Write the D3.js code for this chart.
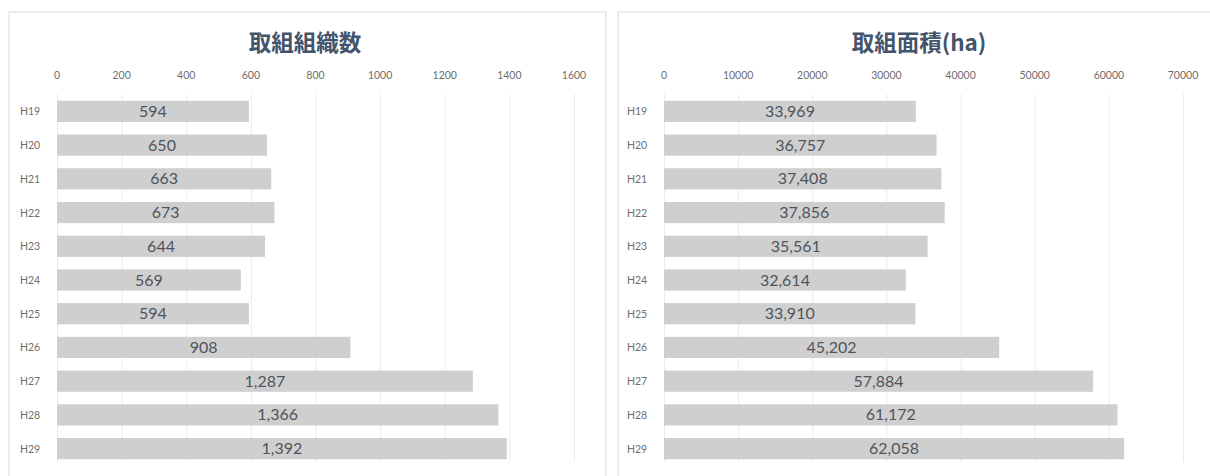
<!DOCTYPE html>
<html>
<head>
<meta charset="utf-8">
<script src="https://cdn.jsdelivr.net/npm/d3@7"></script>
<style>
  body { margin: 0; background: #fff; }
  svg { display: block; }
  .grid line { stroke: #ebebeb; stroke-width: 1; }
  .grid path { display: none; }
</style>
</head>
<body>
<svg id="container" width="1210" height="476"></svg>
<script>
const years = ["H19","H20","H21","H22","H23","H24","H25","H26","H27","H28","H29"];
const orgCounts = [594, 650, 663, 673, 644, 569, 594, 908, 1287, 1366, 1392];
const areaHa = [33969, 36757, 37408, 37856, 35561, 32614, 33910, 45202, 57884, 61172, 62058];
const orgTicks = [0, 200, 400, 600, 800, 1000, 1200, 1400, 1600];
const areaTicks = [0, 10000, 20000, 30000, 40000, 50000, 60000, 70000];

const svg = d3.select("#container");

function drawPanel(opts) {
  let g = svg.append("g");

  // panel frame (open at the bottom)
  g.append("path")
    .attr("d", `M${opts.left},476 V${12} H${opts.right} V476`)
    .attr("fill", "none")
    .attr("stroke", "#e3e6ea")
    .attr("stroke-width", 1.5);

  g.append("text")
    .attr("x", opts.titleX)
    .attr("y", 51)
    .attr("text-anchor", "middle")
    .style("font-family", "'Noto Sans CJK JP', sans-serif")
    .style("font-weight", "bold")
    .style("font-size", "22.5px")
    .style("fill", "#44546a")
    .text(opts.title);

  let x = d3.scaleLinear().domain(opts.domain).range([opts.x0, opts.x1]);
  let y = d3.scaleBand().domain(years).range([94, 466]).paddingInner(0.37).paddingOuter(0.2);

  // vertical grid
  g.append("g")
    .attr("class", "grid")
    .attr("transform", "translate(0,462)")
    .call(d3.axisBottom(x).tickValues(opts.ticks).tickSize(-368).tickFormat(""));

  // top tick labels
  g.selectAll("text.xlab")
    .data(opts.ticks)
    .enter()
    .append("text")
    .attr("class", "xlab")
    .attr("x", d => x(d))
    .attr("y", 79)
    .attr("text-anchor", "middle")
    .style("font-family", "Lato, 'Open Sans', sans-serif")
    .style("font-size", "10.5px")
    .style("fill", "#6e6e6e")
    .text(d => d);

  // category labels
  g.selectAll("text.ylab")
    .data(years)
    .enter()
    .append("text")
    .attr("class", "ylab")
    .attr("x", opts.x0 - 37)
    .attr("y", d => y(d) + y.bandwidth() / 2 + 4)
    .style("font-family", "Lato, 'Open Sans', sans-serif")
    .style("font-size", "10.5px")
    .style("fill", "#6e6e6e")
    .text(d => d);

  // bars
  g.selectAll("rect.bar")
    .data(opts.values)
    .enter()
    .append("rect")
    .attr("class", "bar")
    .attr("x", x(0))
    .attr("y", (d, i) => y(years[i]))
    .attr("width", d => x(d) - x(0))
    .attr("height", y.bandwidth())
    .attr("fill", "#d0cfcf");

  // value labels centered in bars
  g.selectAll("text.val")
    .data(opts.values)
    .enter()
    .append("text")
    .attr("class", "val")
    .attr("x", d => (x(0) + x(d)) / 2)
    .attr("y", (d, i) => y(years[i]) + y.bandwidth() / 2 + 5.5)
    .attr("text-anchor", "middle")
    .style("font-family", "Lato, 'Open Sans', sans-serif")
    .style("font-size", "16px")
    .style("fill", "#4f545c")
    .text(d => d3.format(",")(d));
}

drawPanel({
  title: "取組組織数",
  values: orgCounts,
  ticks: orgTicks,
  domain: [0, 1600],
  x0: 57, x1: 574,
  left: 9, right: 606,
  titleX: 305
});

drawPanel({
  title: "取組面積(ha)",
  values: areaHa,
  ticks: areaTicks,
  domain: [0, 70000],
  x0: 664, x1: 1183,
  left: 618, right: 1215,
  titleX: 919
});
</script>
</body>
</html>
